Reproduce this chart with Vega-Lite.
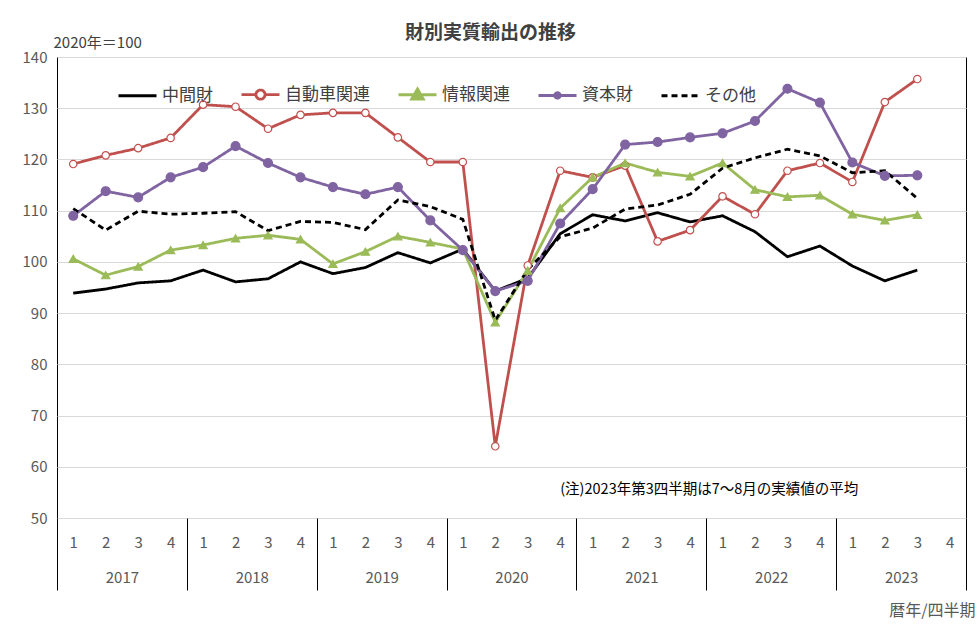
{
  "$schema": "https://vega.github.io/schema/vega-lite/v6.json",
  "autosize": "none",
  "width": 909,
  "height": 461,
  "padding": {"left": 57, "top": 57, "right": 14, "bottom": 119},
  "background": "white",
  "title": {
    "text": "財別実質輸出の推移",
    "anchor": "middle",
    "dx": -21,
    "offset": -8,
    "font": "Noto Sans CJK JP",
    "fontSize": 19,
    "fontWeight": "bold",
    "color": "#404040"
  },
  "data": {
    "values": [
      {"i": 0, "中間財": 93.9, "自動車関連": 119.1, "情報関連": 100.6, "資本財": 109.0, "その他": 110.4},
      {"i": 1, "中間財": 94.7, "自動車関連": 120.8, "情報関連": 97.4, "資本財": 113.8, "その他": 106.2},
      {"i": 2, "中間財": 95.9, "自動車関連": 122.2, "情報関連": 99.1, "資本財": 112.6, "その他": 109.9},
      {"i": 3, "中間財": 96.3, "自動車関連": 124.2, "情報関連": 102.3, "資本財": 116.5, "その他": 109.3},
      {"i": 4, "中間財": 98.4, "自動車関連": 130.7, "情報関連": 103.3, "資本財": 118.5, "その他": 109.5},
      {"i": 5, "中間財": 96.1, "自動車関連": 130.3, "情報関連": 104.6, "資本財": 122.6, "その他": 109.8},
      {"i": 6, "中間財": 96.7, "自動車関連": 126.0, "情報関連": 105.2, "資本財": 119.3, "その他": 106.1},
      {"i": 7, "中間財": 100.0, "自動車関連": 128.7, "情報関連": 104.4, "資本財": 116.5, "その他": 107.9},
      {"i": 8, "中間財": 97.7, "自動車関連": 129.1, "情報関連": 99.6, "資本財": 114.6, "その他": 107.7},
      {"i": 9, "中間財": 98.9, "自動車関連": 129.1, "情報関連": 102.0, "資本財": 113.2, "その他": 106.3},
      {"i": 10, "中間財": 101.8, "自動車関連": 124.3, "情報関連": 105.0, "資本財": 114.6, "その他": 112.1},
      {"i": 11, "中間財": 99.8, "自動車関連": 119.5, "情報関連": 103.8, "資本財": 108.1, "その他": 110.8},
      {"i": 12, "中間財": 102.5, "自動車関連": 119.5, "情報関連": 102.5, "資本財": 102.3, "その他": 108.3},
      {"i": 13, "中間財": 94.3, "自動車関連": 64.0, "情報関連": 88.2, "資本財": 94.3, "その他": 88.6},
      {"i": 14, "中間財": 96.8, "自動車関連": 99.3, "情報関連": 98.3, "資本財": 96.3, "その他": 98.5},
      {"i": 15, "中間財": 105.5, "自動車関連": 117.8, "情報関連": 110.5, "資本財": 107.5, "その他": 104.9},
      {"i": 16, "中間財": 109.2, "自動車関連": 116.5, "情報関連": 116.5, "資本財": 114.2, "その他": 106.6},
      {"i": 17, "中間財": 108.0, "自動車関連": 118.8, "情報関連": 119.3, "資本財": 122.9, "その他": 110.3},
      {"i": 18, "中間財": 109.6, "自動車関連": 104.0, "情報関連": 117.5, "資本財": 123.4, "その他": 111.1},
      {"i": 19, "中間財": 107.8, "自動車関連": 106.2, "情報関連": 116.7, "資本財": 124.3, "その他": 113.2},
      {"i": 20, "中間財": 109.0, "自動車関連": 112.8, "情報関連": 119.3, "資本財": 125.1, "その他": 118.3},
      {"i": 21, "中間財": 105.9, "自動車関連": 109.3, "情報関連": 114.1, "資本財": 127.5, "その他": 120.3},
      {"i": 22, "中間財": 101.0, "自動車関連": 117.8, "情報関連": 112.7, "資本財": 133.8, "その他": 122.0},
      {"i": 23, "中間財": 103.1, "自動車関連": 119.3, "情報関連": 113.0, "資本財": 131.1, "その他": 120.7},
      {"i": 24, "中間財": 99.2, "自動車関連": 115.6, "情報関連": 109.3, "資本財": 119.4, "その他": 117.4},
      {"i": 25, "中間財": 96.3, "自動車関連": 131.2, "情報関連": 108.1, "資本財": 116.8, "その他": 117.8},
      {"i": 26, "中間財": 98.4, "自動車関連": 135.7, "情報関連": 109.2, "資本財": 116.9, "その他": 112.4}
    ]
  },
  "resolve": {"axis": {"x": "independent"}},
  "layer": [
    {
      "transform": [{"fold": ["中間財", "自動車関連", "情報関連", "資本財", "その他"], "as": ["s", "v"]}],
      "mark": {"type": "line", "strokeWidth": 2.8},
      "encoding": {
        "x": {
          "field": "i",
          "type": "quantitative",
          "scale": {"domain": [-0.5, 27.5], "nice": false, "zero": false},
          "axis": {
            "orient": "bottom",
            "title": null,
            "values": [0, 1, 2, 3, 4, 5, 6, 7, 8, 9, 10, 11, 12, 13, 14, 15, 16, 17, 18, 19, 20, 21, 22, 23, 24, 25, 26, 27],
            "labelExpr": "datum.value % 4 + 1",
            "ticks": false,
            "domain": false,
            "grid": false,
            "labelPadding": 17,
            "labelFontSize": 15,
            "labelColor": "#595959",
            "labelFont": "Noto Sans CJK JP"
          }
        },
        "y": {
          "field": "v",
          "type": "quantitative",
          "scale": {"domain": [50, 140], "nice": false, "zero": false},
          "axis": {
            "title": "2020年＝100",
            "values": [50, 60, 70, 80, 90, 100, 110, 120, 130, 140],
            "ticks": false,
            "domain": false,
            "grid": true,
            "gridColor": "#d9d9d9",
            "labelPadding": 10,
            "labelFontSize": 15,
            "labelColor": "#595959",
            "labelFont": "Noto Sans CJK JP",
            "titleAngle": 0,
            "titleAlign": "left",
            "titleBaseline": "middle",
            "titleX": -4,
            "titleY": -15,
            "titleFontSize": 15,
            "titleFontWeight": "normal",
            "titleColor": "#404040",
            "titleFont": "Noto Sans CJK JP"
          }
        },
        "color": {
          "field": "s",
          "type": "nominal",
          "scale": {
            "domain": ["中間財", "自動車関連", "情報関連", "資本財", "その他"],
            "range": ["#000000", "#c0504d", "#9bbb59", "#8064a2", "#000000"]
          },
          "legend": {
            "title": null,
            "orient": "none",
            "legendX": 60,
            "legendY": 17,
            "direction": "horizontal",
            "columns": 5,
            "columnPadding": 22,
            "symbolSize": 1444,
            "symbolStrokeWidth": 3,
            "labelOffset": 4,
            "labelFontSize": 17,
            "labelColor": "#404040",
            "labelFont": "Noto Sans CJK JP",
            "encode": {
              "symbols": {
                "update": {
                  "shape": {"signal": "datum.value == '自動車関連' ? 'M-1,0H-0.24M0.24,0H1M0.24,0A0.24,0.24 0 1 1 -0.24,0A0.24,0.24 0 1 1 0.24,0Z' : datum.value == '情報関連' ? 'M-1,0H1M-0.3,0.22L0,-0.3L0.3,0.22Z' : datum.value == '資本財' ? 'M-1,0H1M0.14,0A0.14,0.14 0 1 1 -0.14,0A0.14,0.14 0 1 1 0.14,0Z' : 'M-1,0H1'"},
                  "fill": {"signal": "datum.value == '自動車関連' ? 'white' : datum.value == '情報関連' ? '#9bbb59' : datum.value == '資本財' ? '#8064a2' : 'transparent'"},
                  "strokeDash": {"signal": "datum.value == 'その他' ? [6, 4] : [1, 0]"},
                  "strokeWidth": {"signal": "datum.value == 'その他' ? 2 : 3"}
                }
              }
            }
          }
        },
        "strokeDash": {
          "field": "s",
          "type": "nominal",
          "scale": {
            "domain": ["中間財", "自動車関連", "情報関連", "資本財", "その他"],
            "range": [[1, 0], [1, 0], [1, 0], [1, 0], [6, 4]]
          },
          "legend": null
        },
        "strokeWidth": {
          "field": "s",
          "type": "nominal",
          "scale": {
            "domain": ["中間財", "自動車関連", "情報関連", "資本財", "その他"],
            "range": [2.8, 3, 3, 3, 1.8]
          },
          "legend": null
        }
      }
    },
    {
      "transform": [
        {"fold": ["自動車関連", "情報関連", "資本財"], "as": ["s", "v"]}
      ],
      "mark": {"type": "point", "filled": false, "strokeWidth": 1.2, "opacity": 1},
      "encoding": {
        "x": {
          "field": "i",
          "type": "quantitative",
          "axis": {
            "orient": "bottom",
            "title": null,
            "values": [1.5, 5.5, 9.5, 13.5, 17.5, 21.5, 25.5],
            "labelExpr": "2017 + floor(datum.value / 4)",
            "ticks": false,
            "domain": false,
            "grid": false,
            "labelPadding": 52,
            "labelFontSize": 15,
            "labelColor": "#595959",
            "labelFont": "Noto Sans CJK JP"
          }
        },
        "y": {"field": "v", "type": "quantitative", "title": "2020年＝100"},
        "shape": {
          "field": "s",
          "type": "nominal",
          "scale": {"domain": ["自動車関連", "情報関連", "資本財"], "range": ["circle", "triangle-up", "circle"]},
          "legend": null
        },
        "fill": {
          "field": "s",
          "type": "nominal",
          "scale": {"domain": ["自動車関連", "情報関連", "資本財"], "range": ["#ffffff", "#9bbb59", "#8064a2"]},
          "legend": null
        },
        "stroke": {
          "field": "s",
          "type": "nominal",
          "scale": {"domain": ["自動車関連", "情報関連", "資本財"], "range": ["#c0504d", "#9bbb59", "#8064a2"]},
          "legend": null
        },
        "size": {
          "field": "s",
          "type": "nominal",
          "scale": {"domain": ["自動車関連", "情報関連", "資本財"], "range": [55, 80, 22]},
          "legend": null
        }
      }
    },
    {
      "data": {"values": [{"note": "(注)2023年第3四半期は7～8月の実績値の平均"}]},
      "mark": {"type": "text", "align": "left", "baseline": "middle", "font": "Noto Sans CJK JP", "fontSize": 14.5, "color": "#000000"},
      "encoding": {
        "x": {
          "datum": 15.0,
          "type": "quantitative",
          "axis": {
            "orient": "bottom",
            "title": "暦年/四半期",
            "values": [-0.5, 3.5, 7.5, 11.5, 15.5, 19.5, 23.5, 27.5],
            "labels": false,
            "ticks": true,
            "tickSize": 72,
            "tickColor": "#000000",
            "tickWidth": 1,
            "domain": false,
            "grid": false,
            "titleAnchor": "end",
            "titleAlign": "right",
            "titleBaseline": "middle",
            "titleX": 918,
            "titleY": 92,
            "titleFontSize": 16,
            "titleFontWeight": "normal",
            "titleColor": "#595959",
            "titleFont": "Noto Sans CJK JP"
          }
        },
        "y": {"datum": 55.5, "type": "quantitative", "title": "2020年＝100"},
        "text": {"field": "note"}
      }
    }
  ],
  "config": {
    "view": {"stroke": "#000000", "strokeWidth": 1},
    "font": "Noto Sans CJK JP"
  }
}
